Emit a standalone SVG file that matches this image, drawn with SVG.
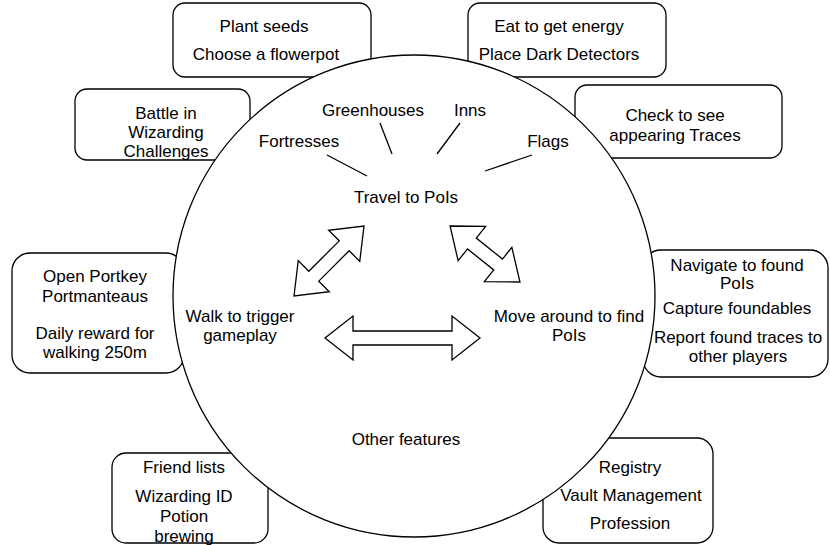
<svg xmlns="http://www.w3.org/2000/svg" width="830" height="545" viewBox="0 0 830 545">
<style>
.box{fill:#fff;stroke:#000;stroke-width:1.3}
.hub{fill:#fff;stroke:#000;stroke-width:1.3}
.t{font-family:"Liberation Sans",Arial,Helvetica,sans-serif;font-size:17px;fill:#000;text-anchor:middle}
.ln{stroke:#000;stroke-width:1.3;fill:none}
.arr{fill:#fff;stroke:#000;stroke-width:1.3;stroke-linejoin:miter}
</style>
<rect width="830" height="545" fill="#fff"/>
<g id="node-plant">
<rect class="box" x="173" y="3" width="198" height="74" rx="12"/>
<text class="t" x="264" y="32">Plant seeds</text>
<text class="t" x="266" y="60">Choose a flowerpot</text>
</g>
<g id="node-eat">
<rect class="box" x="468" y="3" width="198" height="74" rx="12"/>
<text class="t" x="559" y="32">Eat to get energy</text>
<text class="t" x="559" y="60">Place Dark Detectors</text>
</g>
<g id="node-battle">
<rect class="box" x="75" y="89" width="175" height="71" rx="12"/>
<text class="t" x="166" y="119">Battle in</text>
<text class="t" x="166" y="138">Wizarding</text>
<text class="t" x="166" y="157">Challenges</text>
</g>
<g id="node-check">
<rect class="box" x="575" y="85" width="207" height="73" rx="12"/>
<text class="t" x="675" y="121">Check to see</text>
<text class="t" x="675" y="141">appearing Traces</text>
</g>
<g id="node-portkey">
<rect class="box" x="12" y="253" width="172" height="120" rx="18"/>
<text class="t" x="95" y="282">Open Portkey</text>
<text class="t" x="95" y="302">Portmanteaus</text>
<text class="t" x="95" y="339">Daily reward for</text>
<text class="t" x="95" y="358">walking 250m</text>
</g>
<g id="node-navigate">
<rect class="box" x="643" y="250" width="185" height="127" rx="18"/>
<text class="t" x="737" y="271">Navigate to found</text>
<text class="t" x="737" y="289">PoIs</text>
<text class="t" x="737" y="314">Capture foundables</text>
<text class="t" x="738" y="343">Report found traces to</text>
<text class="t" x="738" y="362">other players</text>
</g>
<g id="node-friends">
<rect class="box" x="112" y="453" width="156" height="90" rx="14"/>
<text class="t" x="184" y="473">Friend lists</text>
<text class="t" x="184" y="502">Wizarding ID</text>
<text class="t" x="184" y="522">Potion</text>
<text class="t" x="184" y="542">brewing</text>
</g>
<g id="node-registry">
<rect class="box" x="543" y="438" width="170" height="105" rx="16"/>
<text class="t" x="630" y="473">Registry</text>
<text class="t" x="631" y="501">Vault Management</text>
<text class="t" x="630" y="529">Profession</text>
</g>
<g id="node-hub">
<circle class="hub" cx="414" cy="296" r="241"/>
<text class="t" x="373" y="116">Greenhouses</text>
<text class="t" x="470" y="116">Inns</text>
<text class="t" x="299" y="147">Fortresses</text>
<text class="t" x="548" y="147">Flags</text>
<text class="t" x="406" y="203">Travel to PoIs</text>
<text class="t" x="240" y="322">Walk to trigger</text>
<text class="t" x="240" y="341">gameplay</text>
<text class="t" x="569" y="322">Move around to find</text>
<text class="t" x="569" y="341">PoIs</text>
<text class="t" x="406" y="445">Other features</text>
</g>
<g id="connectors">
<line class="ln" x1="327" y1="155" x2="367" y2="176"/>
<line class="ln" x1="380" y1="123" x2="392" y2="154"/>
<line class="ln" x1="460" y1="123" x2="437" y2="154"/>
<line class="ln" x1="532" y1="155" x2="485" y2="171"/>
<polygon class="arr" transform="translate(329,261) rotate(-45)" points="-49.5,0 -21.5,-22 -21.5,-7 21.5,-7 21.5,-22 49.5,0 21.5,22 21.5,7 -21.5,7 -21.5,22"/>
<polygon class="arr" transform="translate(485,254) rotate(38.7)" points="-44.8,0 -16.8,-22 -16.8,-7 16.8,-7 16.8,-22 44.8,0 16.8,22 16.8,7 -16.8,7 -16.8,22"/>
<polygon class="arr" transform="translate(402.5,338)" points="-77.5,0 -49.5,-22 -49.5,-7 49.5,-7 49.5,-22 77.5,0 49.5,22 49.5,7 -49.5,7 -49.5,22"/>
</g>
</svg>
